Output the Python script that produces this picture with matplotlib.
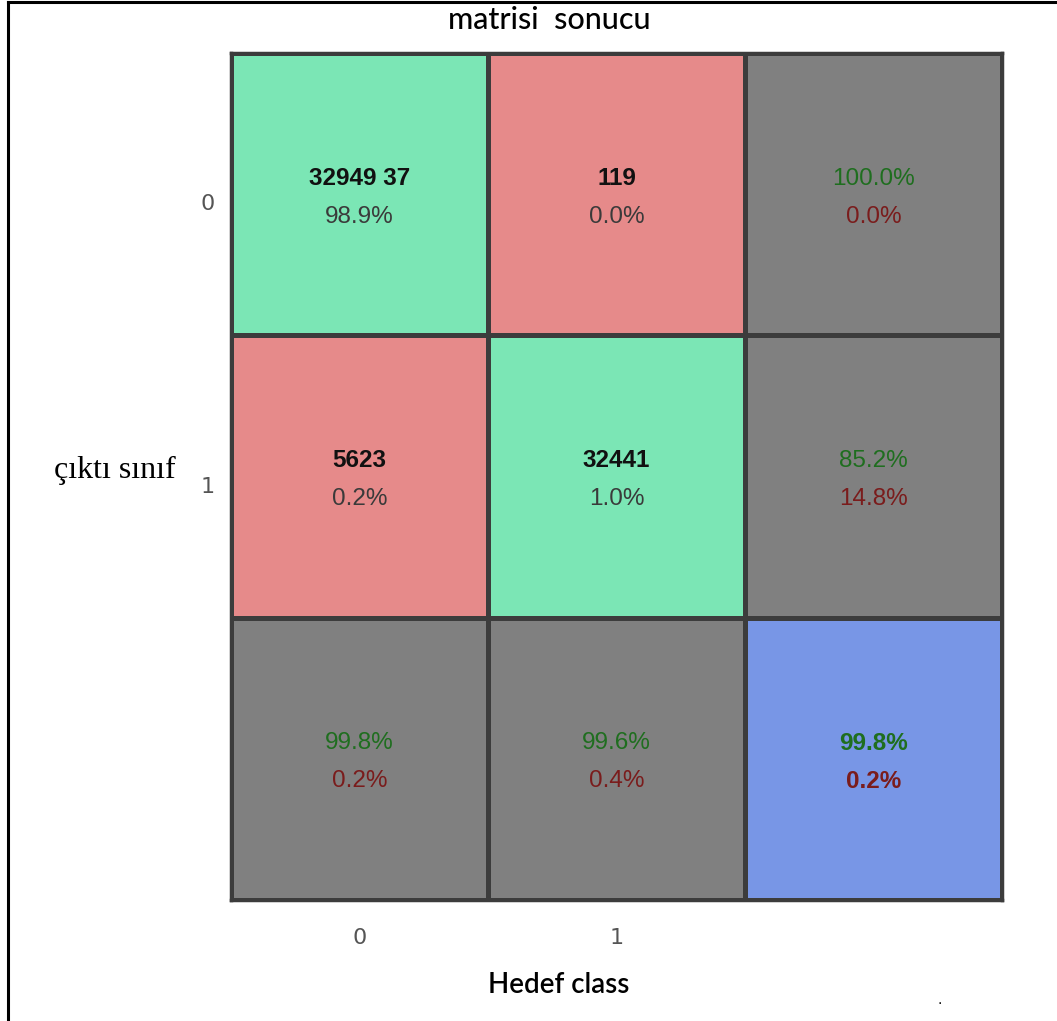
import matplotlib
matplotlib.use("Agg")
import matplotlib.pyplot as plt
import numpy as np
from matplotlib.colors import ListedColormap
from matplotlib.lines import Line2D

# veriler
siniflar = ["0", "1"]
sayilar = ["32949 37", "119", "5623", "32441"]     # 2x2 hücre sayıları (satır sırası)
hucre_yuzde = [98.9, 0.0, 0.2, 1.0]
satir_dogru = [100.0, 85.2]
satir_yanlis = [0.0, 14.8]
sutun_dogru = [99.8, 99.6]
sutun_yanlis = [0.2, 0.4]
genel_dogru = 99.8
genel_yanlis = 0.2

# hücre tipi: 0 yeşil, 1 kırmızı, 2 gri, 3 mavi
tip = np.array([[0, 1, 2],
                [1, 0, 2],
                [2, 2, 3]])
renkler = ListedColormap(["#7BE6B5", "#E68A8A", "#808080", "#7896E6"])

fig = plt.figure(figsize=(10.57, 10.21), dpi=100)
ax = fig.add_axes([231/1057, 1-900/1021, 771/1057, 847/1021])
ax.pcolormesh(tip, cmap=renkler, vmin=-0.5, vmax=3.5,
              edgecolors="#3c3c3c", linewidth=2.5)
ax.set_xlim(0, 3)
ax.set_ylim(3, 0)

f = "Liberation Sans"
fs = 17.5
yesil = "#1f6e1f"
kirmizi = "#7a1c1c"
d1 = 0.055   # üst satır
d2 = 0.08    # alt satır

for i in range(2):
    for j in range(2):
        k = i*2 + j
        ax.text(j+0.5, i+0.5-d1, sayilar[k], ha="center", va="center",
                fontsize=fs, fontweight="bold", family=f, color="#111111")
        ax.text(j+0.5, i+0.5+d2, "%.1f%%" % hucre_yuzde[k], ha="center",
                va="center", fontsize=fs, family=f, color="#3a3a3a")
    ax.text(2.5, i+0.5-d1, "%.1f%%" % satir_dogru[i], ha="center", va="center",
            fontsize=fs, family=f, color=yesil)
    ax.text(2.5, i+0.5+d2, "%.1f%%" % satir_yanlis[i], ha="center", va="center",
            fontsize=fs, family=f, color=kirmizi)
    ax.text(i+0.5, 2.5-d1, "%.1f%%" % sutun_dogru[i], ha="center", va="center",
            fontsize=fs, family=f, color=yesil)
    ax.text(i+0.5, 2.5+d2, "%.1f%%" % sutun_yanlis[i], ha="center", va="center",
            fontsize=fs, family=f, color=kirmizi)

ax.text(2.5, 2.5-d1, "%.1f%%" % genel_dogru, ha="center", va="center",
        fontsize=fs, fontweight="bold", family=f, color=yesil)
ax.text(2.5, 2.5+d2, "%.1f%%" % genel_yanlis, ha="center", va="center",
        fontsize=fs, fontweight="bold", family=f, color=kirmizi)

ax.set_xticks([0.5, 1.5])
ax.set_xticklabels(siniflar)
ax.set_yticks([0.5, 1.5])
ax.set_yticklabels(siniflar)
ax.tick_params(axis="x", length=0, labelsize=16, labelcolor="#555555", pad=20)
ax.tick_params(axis="y", length=0, labelsize=16, labelcolor="#555555", pad=12)
for lab in ax.get_yticklabels():
    lab.set_va("top")
for s in ax.spines.values():
    s.set_color("#3c3c3c")
    s.set_linewidth(2.5)

fig.text(549/1057, 1-20/1021, "matrisi  sonucu", ha="center", va="center",
         fontsize=22, family="Lato", fontweight="medium")
fig.text(559/1057, 1-985/1021, "Hedef class", ha="center", va="center",
         fontsize=20, family="Lato", fontweight="semibold")
fig.text(115/1057, 1-470/1021, "çıktı sınıf", ha="center", va="center",
         fontsize=23, family="Liberation Serif")
fig.text(940/1057, 1-1000/1021, ".", ha="center", va="center", fontsize=10)

# çerçeve
fig.add_artist(Line2D([8/1057, 1], [1-2/1021, 1-2/1021], color="black",
                      linewidth=2.2, transform=fig.transFigure))
fig.add_artist(Line2D([8/1057, 8/1057], [0, 1-2/1021], color="black",
                      linewidth=2.2, transform=fig.transFigure))

fig.savefig("out.png", dpi=100)
